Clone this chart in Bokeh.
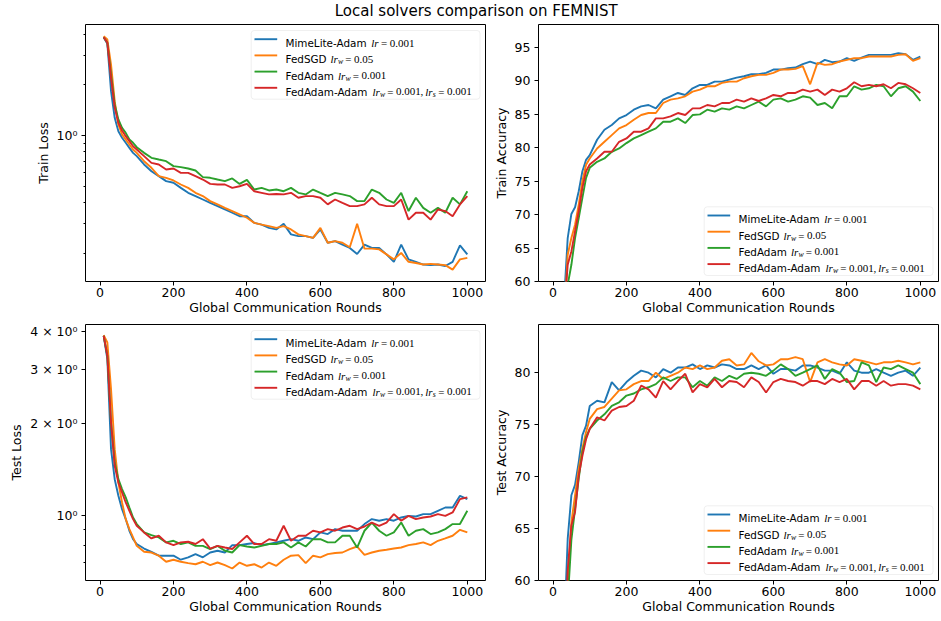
import math
from bokeh.plotting import figure
from bokeh.layouts import column, row
from bokeh.models import Range1d, FixedTicker, BoxAnnotation, Label
from bokeh.core.properties import value
from bokeh.embed import file_html
from bokeh.resources import INLINE

# ---------------- data ----------------
TITLE = "Local solvers comparison on FEMNIST"
X_LABEL = "Global Communication Rounds"
SERIES = ["MimeLite-Adam", "FedSGD", "FedAdam", "FedAdam-Adam"]
COLORS = ["#1f77b4", "#ff7f0e", "#2ca02c", "#d62728"]

ROUNDS = [10, 20, 30, 40, 50, 60, 70, 80, 90, 100,
          120, 140, 160, 180, 200, 220, 240, 260, 280, 300,
          320, 340, 360, 380, 400, 420, 440, 460, 480, 500,
          520, 540, 560, 580, 600, 620, 640, 660, 680, 700,
          720, 740, 760, 780, 800, 820, 840, 860, 880, 900,
          920, 940, 960, 980, 1000]

TRAIN_LOSS_MIME = [3.83, 3.50, 1.833, 1.273, 1.061, 0.969, 0.905, 0.845, 0.789, 0.754,
                   0.673, 0.614, 0.574, 0.536, 0.524, 0.489, 0.457, 0.437, 0.417, 0.398,
                   0.381, 0.364, 0.348, 0.332, 0.332, 0.303, 0.296, 0.283, 0.277, 0.299,
                   0.259, 0.253, 0.253, 0.247, 0.277, 0.231, 0.236, 0.225, 0.215, 0.198,
                   0.225, 0.215, 0.215, 0.197, 0.178, 0.225, 0.184, 0.178, 0.1715, 0.170,
                   0.1715, 0.168, 0.178, 0.223, 0.197]
TRAIN_LOSS_FEDSGD = [3.886, 3.712, 2.638, 1.599, 1.162, 1.014, 0.947, 0.884, 0.826, 0.789,
                     0.704, 0.643, 0.574, 0.561, 0.541, 0.512, 0.489, 0.457, 0.437, 0.408,
                     0.390, 0.372, 0.356, 0.340, 0.325, 0.303, 0.296, 0.290, 0.283, 0.290,
                     0.277, 0.259, 0.253, 0.247, 0.283, 0.231, 0.236, 0.231, 0.217, 0.299,
                     0.213, 0.213, 0.211, 0.197, 0.184, 0.201, 0.178, 0.175, 0.1715, 0.173,
                     0.1715, 0.170, 0.160, 0.184, 0.188]
TRAIN_LOSS_FEDADAM = [3.83, 3.55, 2.30, 1.53, 1.245, 1.111, 1.037, 0.947, 0.905, 0.853,
                      0.789, 0.737, 0.720, 0.704, 0.658, 0.649, 0.637, 0.620, 0.566, 0.561,
                      0.548, 0.536, 0.556, 0.516, 0.545, 0.478, 0.489, 0.472, 0.478, 0.467,
                      0.489, 0.457, 0.447, 0.478, 0.457, 0.437, 0.457, 0.447, 0.437, 0.408,
                      0.408, 0.478, 0.457, 0.417, 0.398, 0.457, 0.356, 0.427, 0.372, 0.348,
                      0.372, 0.348, 0.427, 0.390, 0.467]
TRAIN_LOSS_FEDADAM_ADAM = [3.83, 3.55, 2.20, 1.46, 1.189, 1.071, 0.991, 0.926, 0.864, 0.826,
                           0.754, 0.688, 0.673, 0.628, 0.637, 0.600, 0.600, 0.574, 0.548, 0.516,
                           0.512, 0.512, 0.489, 0.500, 0.516, 0.467, 0.457, 0.447, 0.450, 0.447,
                           0.457, 0.427, 0.437, 0.437, 0.427, 0.390, 0.417, 0.398, 0.381, 0.381,
                           0.390, 0.427, 0.390, 0.381, 0.381, 0.417, 0.317, 0.348, 0.348, 0.317,
                           0.364, 0.356, 0.332, 0.390, 0.437]

TRAIN_ACC_MIME = [20, 40, 57, 66.5, 70.1, 71.1, 73.5, 76.5, 78.2, 78.9,
                  81.2, 82.7, 83.4, 84.4, 84.9, 85.7, 86.2, 86.4, 85.9, 87.2,
                  87.7, 88.2, 87.9, 88.9, 89.4, 89.4, 89.9, 89.9, 90.2, 90.5,
                  90.7, 91.0, 91.0, 91.2, 91.7, 91.7, 91.9, 92.0, 92.5, 92.9,
                  92.5, 93.15, 92.8, 92.9, 93.4, 93.0, 93.5, 93.9, 93.9, 93.9,
                  93.9, 94.15, 94.0, 93.15, 93.65]
TRAIN_ACC_FEDSGD = [15, 35, 54, 64.0, 66.5, 68.5, 71.5, 75.0, 77.45, 78.4,
                    79.9, 80.9, 81.9, 82.9, 83.4, 84.2, 84.9, 85.2, 85.2, 86.7,
                    87.2, 87.4, 87.7, 88.4, 88.7, 89.2, 89.2, 89.7, 89.9, 89.9,
                    90.4, 90.7, 90.9, 90.9, 91.2, 91.7, 91.7, 91.8, 92.2, 89.5,
                    92.7, 92.4, 92.5, 92.9, 93.15, 93.4, 93.4, 93.65, 93.65, 93.65,
                    93.65, 93.9, 94.0, 93.0, 93.4]
TRAIN_ACC_FEDADAM = [15, 33, 52, 59.5, 62.5, 66.5, 69.5, 72.5, 75.5, 77.0,
                     77.9, 78.4, 79.4, 79.9, 80.7, 81.4, 81.9, 82.4, 82.9, 83.9,
                     83.9, 84.4, 83.7, 84.9, 85.0, 85.7, 85.4, 85.9, 85.7, 86.2,
                     85.9, 86.4, 86.9, 86.2, 87.2, 87.4, 86.9, 87.2, 87.7, 87.5,
                     86.4, 86.7, 85.9, 87.7, 87.7, 89.2, 88.7, 88.9, 89.4, 89.2,
                     87.7, 88.9, 89.2, 88.4, 87.0]
TRAIN_ACC_FEDADAM_ADAM = [18, 38, 55, 62.5, 64.5, 67.5, 70.5, 74.0, 76.5, 77.5,
                          78.4, 79.4, 79.4, 80.9, 81.4, 82.4, 82.4, 82.9, 84.4, 84.4,
                          84.7, 85.2, 84.9, 85.9, 85.9, 86.4, 86.2, 86.7, 86.7, 87.2,
                          86.9, 87.4, 87.0, 87.4, 87.9, 87.7, 88.2, 88.2, 88.7, 88.4,
                          88.7, 87.9, 88.7, 88.4, 88.9, 89.8, 89.2, 89.4, 89.2, 89.5,
                          88.9, 89.7, 89.5, 88.9, 88.2]

TEST_LOSS_MIME = [3.883, 3.255, 1.650, 1.315, 1.160, 1.049, 0.973, 0.891, 0.836, 0.806,
                  0.779, 0.760, 0.738, 0.738, 0.738, 0.716, 0.729, 0.747, 0.729, 0.756,
                  0.766, 0.756, 0.799, 0.799, 0.806, 0.812, 0.799, 0.806, 0.816, 0.826,
                  0.836, 0.826, 0.847, 0.836, 0.880, 0.869, 0.902, 0.891, 0.891, 0.891,
                  0.937, 0.973, 0.961, 0.973, 0.961, 0.985, 0.997, 0.992, 1.010, 1.010,
                  1.036, 1.062, 1.062, 1.160, 1.131]
TEST_LOSS_FEDSGD = [3.902, 3.692, 2.596, 1.650, 1.283, 1.103, 0.973, 0.902, 0.847, 0.795,
                    0.760, 0.756, 0.738, 0.705, 0.716, 0.705, 0.698, 0.692, 0.705, 0.687,
                    0.701, 0.687, 0.670, 0.701, 0.684, 0.692, 0.675, 0.701, 0.684, 0.716,
                    0.738, 0.741, 0.698, 0.738, 0.729, 0.747, 0.753, 0.756, 0.776, 0.791,
                    0.743, 0.756, 0.766, 0.772, 0.779, 0.785, 0.799, 0.806, 0.816, 0.799,
                    0.826, 0.841, 0.858, 0.897, 0.880]
TEST_LOSS_FEDADAM = [3.883, 3.338, 2.018, 1.492, 1.315, 1.220, 1.146, 1.062, 0.985, 0.937,
                     0.880, 0.862, 0.847, 0.816, 0.826, 0.806, 0.816, 0.795, 0.795, 0.776,
                     0.795, 0.766, 0.756, 0.799, 0.791, 0.785, 0.795, 0.806, 0.806, 0.816,
                     0.785, 0.816, 0.791, 0.836, 0.836, 0.816, 0.816, 0.858, 0.858, 0.785,
                     0.891, 0.948, 0.891, 0.858, 0.880, 0.948, 0.858, 0.891, 0.902, 0.869,
                     0.880, 0.902, 0.937, 0.937, 1.036]
TEST_LOSS_FEDADAM_ADAM = [3.883, 3.338, 2.018, 1.455, 1.283, 1.190, 1.103, 1.036, 0.973, 0.925,
                          0.880, 0.841, 0.858, 0.816, 0.799, 0.816, 0.820, 0.806, 0.836, 0.779,
                          0.795, 0.785, 0.776, 0.816, 0.858, 0.806, 0.806, 0.836, 0.826, 0.925,
                          0.826, 0.858, 0.858, 0.891, 0.880, 0.902, 0.891, 0.913, 0.925, 0.902,
                          0.920, 0.948, 0.925, 0.948, 1.010, 0.961, 0.997, 0.973, 0.985, 0.992,
                          1.010, 0.997, 1.023, 1.131, 1.146]

TEST_ACC_MIME = [15, 35, 55, 64.0, 68.2, 69.2, 71.4, 74.0, 74.9, 76.8,
                 77.3, 77.15, 79.1, 78.3, 79.1, 79.7, 80.2, 80.0, 79.55, 80.35,
                 80.0, 80.5, 80.5, 80.8, 80.35, 80.7, 80.5, 80.8, 80.7, 80.35,
                 80.35, 80.7, 80.35, 80.7, 79.9, 80.35, 80.35, 80.2, 80.7, 80.7,
                 80.5, 80.2, 80.2, 79.9, 81.0, 80.2, 80.0, 80.0, 80.35, 80.0,
                 79.7, 80.0, 80.2, 79.7, 80.5]
TEST_ACC_FEDSGD = [12, 30, 50, 59.5, 65.6, 68.2, 70.75, 72.7, 74.3, 75.55,
                   76.5, 76.7, 77.5, 78.3, 78.4, 78.9, 79.2, 79.2, 80.0, 79.4,
                   79.7, 80.0, 80.5, 80.35, 80.7, 80.35, 80.5, 81.15, 81.3, 80.7,
                   80.8, 81.9, 81.1, 80.7, 80.8, 81.3, 81.3, 81.5, 81.3, 79.1,
                   81.0, 81.3, 81.0, 80.8, 80.7, 81.3, 81.15, 81.0, 80.8, 81.0,
                   81.0, 81.15, 81.0, 80.8, 81.0]
TEST_ACC_FEDADAM = [12, 28, 48, 58, 63.9, 66.9, 69.8, 72.4, 73.8, 74.6,
                    75.4, 76.0, 76.8, 77.15, 77.8, 78.0, 78.4, 78.6, 78.9, 79.55,
                    79.2, 79.55, 79.55, 78.6, 79.2, 78.75, 79.55, 79.2, 79.7, 79.4,
                    79.9, 80.0, 79.9, 79.7, 80.2, 80.8, 80.35, 79.7, 80.0, 80.35,
                    80.7, 79.4, 80.35, 80.0, 79.1, 79.2, 81.0, 80.7, 79.1, 80.5,
                    80.35, 80.7, 80.35, 80.0, 78.9]
TEST_ACC_FEDADAM_ADAM = [14, 32, 53, 61, 65.3, 66.6, 70.1, 72.0, 73.6, 74.6,
                         75.7, 75.4, 76.35, 76.7, 76.8, 77.3, 78.75, 78.4, 77.6, 79.2,
                         78.4, 79.2, 79.9, 78.1, 78.9, 78.6, 79.4, 78.6, 79.2, 79.1,
                         78.6, 79.55, 79.1, 78.1, 79.1, 79.4, 79.2, 79.1, 78.75, 79.2,
                         79.2, 78.9, 79.4, 79.1, 79.4, 78.4, 79.2, 79.2, 78.75, 79.2,
                         78.75, 78.9, 78.9, 78.75, 78.4]

X_TICKS = [0, 200, 400, 600, 800, 1000]
TRAIN_LOSS_TICKS = [1]
TRAIN_LOSS_TICK_LABELS = {1: "10\u2070"}
TRAIN_LOSS_MINOR = [0.2, 0.3, 0.4, 0.5, 0.6, 0.7, 0.8, 0.9, 2, 3, 4]
TEST_LOSS_TICKS = [1, 2, 3, 4]
TEST_LOSS_TICK_LABELS = {1: "10\u2070", 2: "2 \u00d7 10\u2070", 3: "3 \u00d7 10\u2070", 4: "4 \u00d7 10\u2070"}
TEST_LOSS_MINOR = [0.7, 0.8, 0.9]
TRAIN_ACC_TICKS = [60, 65, 70, 75, 80, 85, 90, 95]
TEST_ACC_TICKS = [60, 65, 70, 75, 80]

# legend label pieces: (text, kind)
LEGEND_PIECES = [
    [("MimeLite-Adam", "sans"), ("lr", "it"), ("=", "rm"), ("0.001", "rm")],
    [("FedSGD", "sans"), ("lr", "it"), ("w", "sub"), ("=", "rm"), ("0.05", "rm")],
    [("FedAdam", "sans"), ("lr", "it"), ("w", "sub"), ("=", "rm"), ("0.001", "rm")],
    [("FedAdam-Adam", "sans"), ("lr", "it"), ("w", "sub"), ("=", "rm"), ("0.001", "rm"),
     (",", "rm"), ("lr", "it"), ("s", "sub"), ("=", "rm"), ("0.001", "rm")],
]
# horizontal offsets (px) of each piece from the label start
LEGEND_OFFSETS = [
    [0, 85.7, 95.5, 104.3],
    [0, 45.0, 52.6, 59.8, 68.6],
    [0, 52.5, 60.1, 67.3, 76.1],
    [0, 87.0, 94.6, 101.8, 110.6, 135.0, 139.7, 147.3, 152.7, 161.5],
]

# ---------------- layout constants ----------------
FRAME_W = 400
X_RANGE = (-39.5, 1049.5)
SANS = "DejaVu Sans"
SERIF = "Liberation Serif"
FS = "12.5px"
LEG_W, LEG_H = 228.8, 68.7


def add_legend(p, yr, log, H, loc):
    W = FRAME_W
    xr = X_RANGE

    def X(fx):
        return xr[0] + fx * (xr[1] - xr[0]) / W

    if log:
        lo, hi = math.log10(yr[0]), math.log10(yr[1])

        def Y(fy):
            return 10 ** (hi - fy * (hi - lo) / H)
    else:
        def Y(fy):
            return yr[1] - fy * (yr[1] - yr[0]) / H

    bx0 = W - 5.5 - LEG_W
    by0 = 6.0 if loc == "upper" else H - 6.0 - LEG_H
    p.add_layout(BoxAnnotation(left=X(bx0), right=X(bx0 + LEG_W),
                               top=Y(by0), bottom=Y(by0 + LEG_H),
                               fill_color="white", fill_alpha=0.8,
                               line_color="#cccccc", line_width=1,
                               border_radius=3, level="annotation"))
    for i, (color, pieces, offs) in enumerate(zip(COLORS, LEGEND_PIECES, LEGEND_OFFSETS)):
        cy = by0 + 8.7 + i * 16.2
        p.segment(x0=[X(bx0 + 3.3)], y0=[Y(cy)], x1=[X(bx0 + 26.0)], y1=[Y(cy)],
                  line_color=color, line_width=1.9, level="overlay")
        tx = bx0 + 34.3
        for (txt, kind), dx in zip(pieces, offs):
            if kind == "sans":
                font, style, size, dy = SANS, "normal", "10.4px", 0.0
            elif kind == "it":
                font, style, size, dy = SERIF, "italic", "11px", 0.0
            elif kind == "sub":
                font, style, size, dy = SERIF, "italic", "7.8px", 2.6
            else:
                font, style, size, dy = SERIF, "normal", "11px", 0.0
            p.add_layout(Label(x=X(tx + dx), y=Y(cy + 3.9 + dy), text=txt,
                               text_font=font, text_font_style=style,
                               text_font_size=size, text_color="black",
                               text_align="left", text_baseline="alphabetic",
                               level="overlay"))


def make_panel(ylabel, series, yr, log, loc, frame_h, borders, yticks,
               overrides=None, minor=None):
    bl, br, bt, bb = borders
    p = figure(frame_width=FRAME_W, frame_height=frame_h,
               x_range=Range1d(*X_RANGE), y_range=Range1d(*yr),
               y_axis_type="log" if log else "linear",
               output_backend="svg", toolbar_location=None,
               min_border_left=bl, min_border_right=br,
               min_border_top=bt, min_border_bottom=bb)
    p.outline_line_color = "black"
    p.outline_line_width = 1
    p.xgrid.visible = False
    p.ygrid.visible = False
    p.background_fill_color = "white"
    p.border_fill_color = "white"

    for ax in (p.xaxis[0], p.yaxis[0]):
        ax.axis_line_color = None
        ax.major_tick_out = 4
        ax.major_tick_in = 0
        ax.major_tick_line_color = "black"
        ax.minor_tick_out = 2
        ax.minor_tick_in = 0
        ax.minor_tick_line_color = "black"
        ax.major_label_text_font = SANS
        ax.major_label_text_font_size = FS
        ax.major_label_text_color = "black"
        ax.axis_label_text_font = SANS
        ax.axis_label_text_font_size = FS
        ax.axis_label_text_font_style = "normal"
        ax.axis_label_text_color = "black"
    p.xaxis[0].major_label_standoff = 2
    p.xaxis[0].axis_label_standoff = 0
    p.yaxis[0].major_label_standoff = 4
    p.yaxis[0].axis_label_standoff = 3

    p.xaxis[0].ticker = FixedTicker(ticks=X_TICKS)
    p.xaxis[0].minor_tick_line_color = None
    p.xaxis[0].axis_label = X_LABEL
    p.yaxis[0].axis_label = ylabel
    if log:
        p.yaxis[0].ticker = FixedTicker(ticks=yticks, minor_ticks=minor)
        p.yaxis[0].major_label_overrides = overrides
    else:
        p.yaxis[0].ticker = FixedTicker(ticks=yticks)
        p.yaxis[0].minor_tick_line_color = None

    for ys, color in zip(series, COLORS):
        p.line(ROUNDS, ys, line_color=color, line_width=1.9)

    add_legend(p, yr, log, frame_h, loc)
    return p


p_tl = make_panel("Train Loss",
                  [TRAIN_LOSS_MIME, TRAIN_LOSS_FEDSGD, TRAIN_LOSS_FEDADAM, TRAIN_LOSS_FEDADAM_ADAM],
                  (0.136, 4.558), True, "upper", 257, (85, 5, 1, 41),
                  TRAIN_LOSS_TICKS, TRAIN_LOSS_TICK_LABELS, TRAIN_LOSS_MINOR)
p_tr = make_panel("Train Accuracy",
                  [TRAIN_ACC_MIME, TRAIN_ACC_FEDSGD, TRAIN_ACC_FEDADAM, TRAIN_ACC_FEDADAM_ADAM],
                  (60, 98.44), False, "lower", 257, (48, 2, 1, 41), TRAIN_ACC_TICKS)
p_bl = make_panel("Test Loss",
                  [TEST_LOSS_MIME, TEST_LOSS_FEDSGD, TEST_LOSS_FEDADAM, TEST_LOSS_FEDADAM_ADAM],
                  (0.612, 4.228), True, "upper", 256, (85, 5, 2, 36),
                  TEST_LOSS_TICKS, TEST_LOSS_TICK_LABELS, TEST_LOSS_MINOR)
p_br = make_panel("Test Accuracy",
                  [TEST_ACC_MIME, TEST_ACC_FEDSGD, TEST_ACC_FEDADAM, TEST_ACC_FEDADAM_ADAM],
                  (60, 84.64), False, "lower", 256, (48, 2, 2, 36), TEST_ACC_TICKS)

# title strip
t = figure(width=940, height=23, x_range=Range1d(0, 1), y_range=Range1d(0, 1),
           x_axis_location=None, y_axis_location=None, min_border=0,
           output_backend="svg", toolbar_location=None)
t.outline_line_color = None
t.grid.visible = False
t.text(x=[0.506], y=[0.56], text=[TITLE], text_font=value(SANS),
       text_font_size=value("15px"), text_align="center",
       text_baseline="middle", text_color="black")

layout = column(t, row(p_tl, p_tr), row(p_bl, p_br))
open("out.html", "w").write(file_html(layout, INLINE))
